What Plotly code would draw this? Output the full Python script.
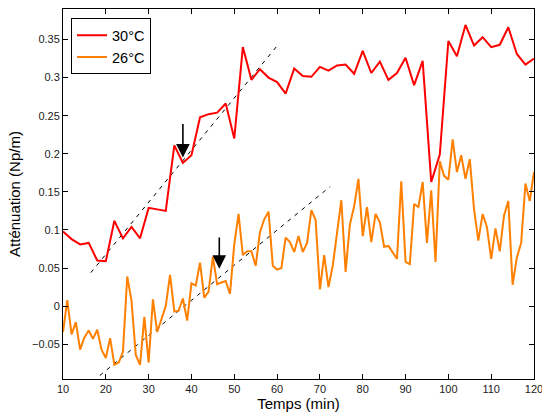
import plotly.graph_objects as go

# --- data ---
t_30 = list(range(10, 121, 2))
att_30 = [0.098, 0.088, 0.081, 0.083, 0.060, 0.059, 0.112, 0.089, 0.104, 0.089,
          0.129, 0.127, 0.125, 0.211, 0.188, 0.198, 0.248, 0.252, 0.254, 0.266,
          0.220, 0.340, 0.297, 0.311, 0.300, 0.294, 0.279, 0.312, 0.302, 0.301,
          0.314, 0.309, 0.316, 0.317, 0.305, 0.335, 0.306, 0.321, 0.297, 0.306,
          0.326, 0.290, 0.322, 0.163, 0.199, 0.348, 0.328, 0.369, 0.342, 0.353,
          0.340, 0.343, 0.366, 0.331, 0.317, 0.325]

t_26 = list(range(10, 121))
att_26 = [-0.034, 0.008, -0.037, -0.021, -0.057, -0.041, -0.032, -0.043, -0.031, -0.057,
          -0.068, -0.042, -0.077, -0.074, -0.060, 0.039, 0.007, -0.064, -0.077, -0.014,
          -0.074, 0.009, -0.034, -0.016, 0.000, 0.041, -0.007, -0.006, 0.010, -0.019,
          0.030, 0.027, 0.057, 0.011, 0.019, 0.065, 0.029, 0.031, 0.033, 0.016,
          0.081, 0.121, 0.067, 0.072, 0.072, 0.053, 0.097, 0.114, 0.124, 0.053,
          0.048, 0.050, 0.090, 0.084, 0.071, 0.092, 0.071, 0.083, 0.126, 0.113,
          0.022, 0.067, 0.025, 0.053, 0.097, 0.139, 0.045, 0.107, 0.131, 0.167,
          0.092, 0.130, 0.084, 0.121, 0.110, 0.078, 0.079, 0.070, 0.062, 0.164,
          0.058, 0.055, 0.134, 0.130, 0.163, 0.083, 0.152, 0.058, 0.190, 0.171,
          0.166, 0.219, 0.176, 0.198, 0.167, 0.193, 0.127, 0.086, 0.121, 0.104,
          0.062, 0.102, 0.072, 0.119, 0.138, 0.028, 0.064, 0.083, 0.161, 0.138,
          0.176]

fit30_x = [16.5, 60.5]
fit30_y = [0.044, 0.345]
fit26_x = [18.6, 72.4]
fit26_y = [-0.091, 0.157]

arrow_x = [38.0, 46.5]
arrow_tip_y = [0.195, 0.049]
arrow_tail_y = [0.241, 0.092]

x_ticks = [10, 20, 30, 40, 50, 60, 70, 80, 90, 100, 110, 120]
y_ticks = [-0.05, 0, 0.05, 0.1, 0.15, 0.2, 0.25, 0.3, 0.35]
y_ticktext = ["\u22120.05", "0", "0.05", "0.1", "0.15", "0.2", "0.25", "0.3", "0.35"]

RED = "rgb(255,0,0)"
ORANGE = "rgb(255,128,0)"

fig = go.Figure()
fig.add_trace(go.Scatter(x=fit30_x, y=fit30_y, mode="lines", showlegend=False,
                         line=dict(color="black", width=1, dash="4px,5px")))
fig.add_trace(go.Scatter(x=fit26_x, y=fit26_y, mode="lines", showlegend=False,
                         line=dict(color="black", width=1, dash="4px,5px")))
fig.add_trace(go.Scatter(x=t_30, y=att_30, mode="lines", name="30°C",
                         line=dict(color=RED, width=2)))
fig.add_trace(go.Scatter(x=t_26, y=att_26, mode="lines", name="26°C",
                         line=dict(color=ORANGE, width=2)))

for ax_, tip, tail in zip(arrow_x, arrow_tip_y, arrow_tail_y):
    fig.add_annotation(x=ax_, y=tip, ax=ax_, ay=tail, xref="x", yref="y",
                       axref="x", ayref="y", showarrow=True, text="",
                       arrowhead=2, arrowsize=1.7, arrowwidth=1.6, arrowcolor="black")

axis_common = dict(showgrid=False, zeroline=False, showline=True, linecolor="black",
                   linewidth=1, mirror="ticks", ticks="inside", ticklen=5,
                   tickcolor="black", tickfont=dict(size=11, color="#222"),
                   automargin=False, ticklabeloverflow="allow")

fig.update_layout(
    width=542, height=414,
    margin=dict(l=63, r=8, t=9, b=35),
    paper_bgcolor="white", plot_bgcolor="white",
    font=dict(family="Liberation Sans, Arial, sans-serif", color="black"),
    xaxis=dict(range=[10, 120], tickvals=x_ticks,
               title=dict(text="Temps (min)", font=dict(size=15), standoff=1),
               **axis_common),
    yaxis=dict(range=[-0.0956, 0.390], tickvals=y_ticks, ticktext=y_ticktext,
               title=dict(text="Atténuation (Np/m)", font=dict(size=15), standoff=7),
               **axis_common),
    legend=dict(x=0.017, y=0.975, xanchor="left", yanchor="top",
                bgcolor="white", bordercolor="black", borderwidth=1,
                font=dict(size=14.5), tracegroupgap=0, itemwidth=30),
)

fig.write_html("out.html", config={"displayModeBar": False},
               post_script="document.body.style.margin='0';document.body.style.padding='0';"
                           "document.documentElement.style.overflow='hidden';")
